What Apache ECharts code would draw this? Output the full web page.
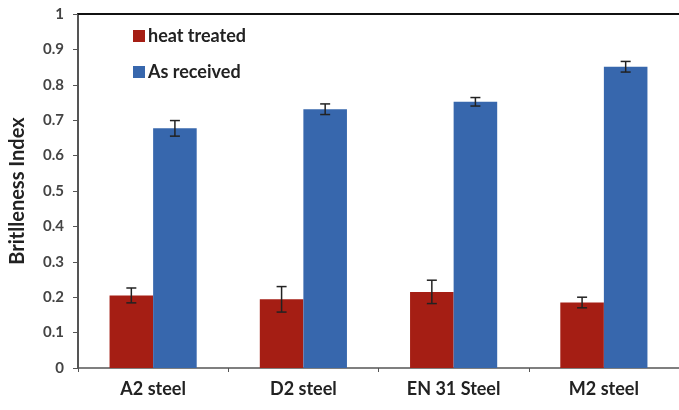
<!DOCTYPE html>
<html>
<head>
<meta charset="utf-8">
<script src="https://cdn.jsdelivr.net/npm/echarts@6/dist/echarts.min.js"></script>
<style>
  html, body { margin: 0; padding: 0; background: #fff; }
  #chart { width: 679px; height: 410px; }
</style>
</head>
<body>
<div id="chart"></div>
<script>
// Brittleness index of tool steels, heat treated vs. as received
const categories = ['A2 steel', 'D2 steel', 'EN 31 Steel', 'M2 steel'];
const heatTreated = [0.205, 0.194, 0.215, 0.185];
const heatTreatedErr = [0.021, 0.036, 0.033, 0.015];
const asReceived = [0.677, 0.731, 0.752, 0.851];
const asReceivedErr = [0.022, 0.015, 0.012, 0.015];
const yTicks = [0, 0.1, 0.2, 0.3, 0.4, 0.5, 0.6, 0.7, 0.8, 0.9, 1];

const RED = '#a51e14';
const BLUE = '#3767ad';
const BAR_FRACTION = 0.29;

const chart = echarts.init(document.getElementById('chart'));

// Error whiskers placed over each bar of a series; side = -1 (left bar) or +1 (right bar)
function errorSeries(values, errs, side) {
  return {
    type: 'custom',
    z: 10,
    data: values.map((v, i) => [i, v - errs[i], v + errs[i]]),
    renderItem: function (params, api) {
      const idx = api.value(0);
      const lo = api.coord([idx, api.value(1)]);
      const hi = api.coord([idx, api.value(2)]);
      const bw = api.size([1, 0])[0] * BAR_FRACTION;
      const x = lo[0] + side * bw / 2;
      const cap = 5;
      const style = { stroke: '#222', lineWidth: 1.5 };
      return {
        type: 'group',
        children: [
          { type: 'line', shape: { x1: x, y1: hi[1], x2: x, y2: lo[1] }, style: style },
          { type: 'line', shape: { x1: x - cap, y1: hi[1], x2: x + cap, y2: hi[1] }, style: style },
          { type: 'line', shape: { x1: x - cap, y1: lo[1], x2: x + cap, y2: lo[1] }, style: style }
        ]
      };
    }
  };
}

chart.setOption({
  animation: false,
  textStyle: { fontFamily: 'Lato' },
  grid: { left: 77, top: 14, right: -7, bottom: 42 },
  legend: {
    left: 128,
    top: 22,
    orient: 'vertical',
    itemWidth: 12,
    itemHeight: 12,
    itemGap: 18,
    icon: 'rect',
    textStyle: { fontFamily: 'Lato', fontSize: 18, fontWeight: 'bold', color: '#222', padding: [0, 0, 0, -2] },
    data: ['heat treated', 'As received']
  },
  xAxis: [
    {
      type: 'category',
      data: categories,
      axisLine: { lineStyle: { color: '#555', width: 1.5 } },
      axisTick: { show: true, length: 4, lineStyle: { color: '#555' } },
      axisLabel: { fontFamily: 'Lato', fontSize: 18, fontWeight: 'bold', color: '#222', margin: 12 }
    },
    {
      type: 'category',
      position: 'top',
      data: categories,
      axisLine: { show: true, lineStyle: { color: '#111', width: 2 } },
      axisTick: { show: false },
      axisLabel: { show: false }
    }
  ],
  yAxis: {
    type: 'value',
    min: 0,
    max: 1,
    interval: 0.1,
    name: 'Britlleness Index',
    nameLocation: 'middle',
    nameGap: 50,
    nameRotate: 90,
    nameTextStyle: { fontFamily: 'Lato', fontSize: 20, fontWeight: 'bold', color: '#222' },
    axisLine: { show: true, lineStyle: { color: '#555', width: 2 } },
    axisTick: { show: true, length: 5, lineStyle: { color: '#555' } },
    splitLine: { show: false },
    axisLabel: {
      fontFamily: 'Lato', fontSize: 15, fontWeight: 'bold', color: '#444', margin: 14,
      formatter: v => {
        const t = yTicks.find(k => Math.abs(k - v) < 1e-9);
        return t === undefined ? '' : String(t);
      }
    }
  },
  series: [
    {
      name: 'heat treated',
      type: 'bar',
      data: heatTreated,
      barWidth: (BAR_FRACTION * 100) + '%',
      barGap: '0%',
      itemStyle: { color: RED }
    },
    {
      name: 'As received',
      type: 'bar',
      data: asReceived,
      barWidth: (BAR_FRACTION * 100) + '%',
      barGap: '0%',
      itemStyle: { color: BLUE }
    },
    errorSeries(heatTreated, heatTreatedErr, -1),
    errorSeries(asReceived, asReceivedErr, 1)
  ]
});
</script>
</body>
</html>
